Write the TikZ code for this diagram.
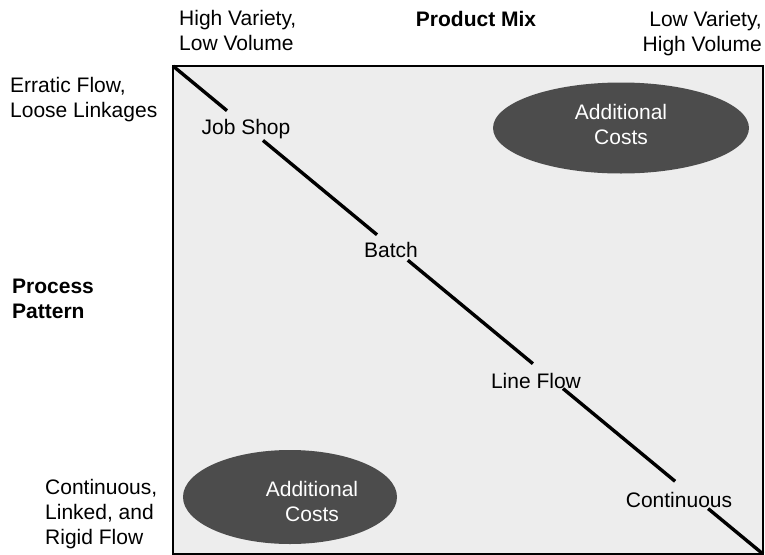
\documentclass[tikz,border=0pt]{standalone}
\usepackage{fontspec}
\setmainfont{Liberation Sans}
\usetikzlibrary{calc}
\begin{document}
\begin{tikzpicture}[x=1pt,y=-1pt,
  lbl/.style={inner sep=0pt, font=\fontsize{21}{25}\selectfont},
  headlbl/.style={lbl, font=\fontsize{21}{25}\selectfont\bfseries},
  field/.style={fill=black!7, draw=black, line width=1.2pt},
  costblob/.style={ellipse, fill=black!70, draw=none},
  costtext/.style={lbl, text=white, align=center},
  diag/.style={line width=3.4pt, black}
]
\useasboundingbox (0,0) rectangle (765,554);

% matrix field
\coordinate (tl) at (173,66);
\coordinate (br) at (763,554);
\draw[field] (tl) rectangle (br);

% axis headings
\node[lbl, anchor=north west, align=left] (hv) at (179,10.5) {High Variety,\\Low Volume};
\node[headlbl, anchor=base] (pm) at (476,26) {Product Mix};
\node[lbl, anchor=north east, align=right] (lv) at (762,11) {Low Variety,\\High Volume};
\node[lbl, anchor=north west, align=left] (ef) at (10,77.5) {Erratic Flow,\\Loose Linkages};
\node[headlbl, anchor=north west, align=left] (pp) at (12,278.5) {Process\\Pattern};
\node[lbl, anchor=north west, align=left] (cf) at (45,479.5) {Continuous,\\Linked, and\\Rigid Flow};

% additional cost regions
\fill[black!70] (621,128) ellipse [x radius=128, y radius=45.5];
\node[costtext] (ac1) at (621,124) {Additional\\Costs};
\fill[black!70] (290,497) ellipse [x radius=107, y radius=47];
\node[costtext] (ac2) at (312,501) {Additional\\Costs};

% process types along the diagonal
\node[lbl, anchor=base] (js) at (246,134) {Job Shop};
\node[lbl, anchor=base] (bt) at (391,257) {Batch};
\node[lbl, anchor=base] (lf) at (536,388) {Line Flow};
\node[lbl, anchor=base] (ct) at (679,507) {Continuous};

% diagonal, broken around each label
\coordinate (d1) at ($(tl)!0.0915!(br)$);
\coordinate (d2) at ($(tl)!0.1525!(br)$);
\coordinate (d3) at ($(tl)!0.3458!(br)$);
\coordinate (d4) at ($(tl)!0.398!(br)$);
\coordinate (d5) at ($(tl)!0.610!(br)$);
\coordinate (d6) at ($(tl)!0.661!(br)$);
\coordinate (d7) at ($(tl)!0.851!(br)$);
\coordinate (d8) at ($(tl)!0.907!(br)$);
\draw[diag] (tl) -- (d1);
\draw[diag] (d2) -- (d3);
\draw[diag] (d4) -- (d5);
\draw[diag] (d6) -- (d7);
\draw[diag] (d8) -- (br);
\end{tikzpicture}
\end{document}
